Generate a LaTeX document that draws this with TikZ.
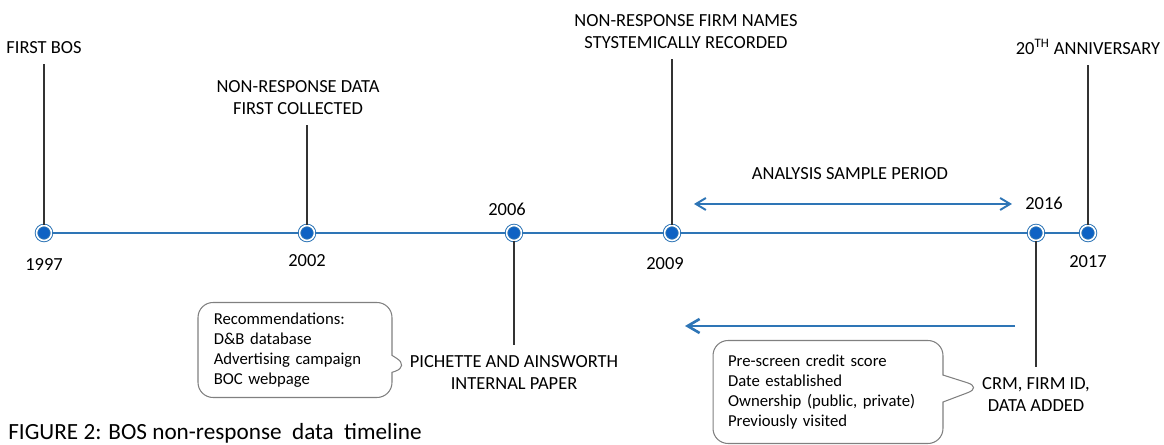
\documentclass[tikz,border=0pt]{standalone}
\usepackage{fontspec}
\setmainfont{Carlito}
\usepackage{xcolor}
\usepackage{tikz}
\usetikzlibrary{positioning}
\usetikzlibrary{arrows.meta}
\usetikzlibrary{shapes.callouts}
\definecolor{lineblue}{RGB}{46,117,182}
\definecolor{dotblue}{RGB}{14,98,196}
\tikzstyle{dot}=[circle, draw=lineblue, fill=dotblue, line width=0.55pt, double=white, double distance=0.9pt, minimum size=0.3cm, inner sep=0cm]
\tikzstyle{year}=[inner sep=0cm, text depth=0ex]
\tikzstyle{tag}=[align=center, inner xsep=0cm, inner ysep=0.2cm, text depth=0ex]
\tikzstyle{stem}=[draw=black!80, line width=0.9pt]
\tikzstyle{tline}=[draw=lineblue, line width=1.7pt]
\tikzstyle{note}=[rectangle callout, draw=black!50, line width=0.6pt, rounded corners=3mm, align=left, font=\fontsize{9.5}{11.4}\selectfont, inner xsep=0.3cm]

\begin{document}
\begin{tikzpicture}[x=0.02cm, y=-0.02cm, font=\fontsize{10.5}{12.6}\selectfont]
\useasboundingbox (0,0) rectangle (1164,445);

% timeline dots
\node (d97) [dot] at (44,233) {};
\node (d02) [dot] at (307,233) {};
\node (d06) [dot] at (514,233) {};
\node (d09) [dot] at (672,233) {};
\node (d16) [dot] at (1036,233) {};
\node (d17) [dot] at (1088,233) {};

\draw [tline] (d97) -- (d02) -- (d06) -- (d09) -- (d16) -- (d17);

% years
\node (y97) [year, below=0.34cm of d97] {1997};
\node (y02) [year, below=0.26cm of d02] {2002};
\node (y06) [year, above=0.18cm of d06, xshift=-0.14cm] {2006};
\node (y09) [year, below=0.32cm of d09, xshift=-0.14cm] {2009};
\node (y16) [year, above=0.3cm of d16, xshift=0.16cm] {2016};
\node (y17) [year, below=0.28cm of d17] {2017};

% events
\node (first) [tag, above=3.22cm of d97] {FIRST BOS};
\node (collect) [tag, above=2.0cm of d02, xshift=-0.18cm] {NON-RESPONSE DATA\\FIRST COLLECTED};
\node (names) [tag, above=3.32cm of d09, xshift=0.28cm] {NON-RESPONSE FIRM NAMES\\STYSTEMICALLY RECORDED};
\node (anniv) [tag, above=3.2cm of d17] {20\textsuperscript{TH} ANNIVERSARY};
\node (paper) [tag, below=2.08cm of d06] {PICHETTE AND AINSWORTH\\INTERNAL PAPER};
\node (crm) [tag, below=2.52cm of d16] {CRM, FIRM ID,\\DATA ADDED};

\draw [stem] (d97) -- (d97 |- first.south);
\draw [stem] (d02) -- (d02 |- collect.south);
\draw [stem] (d09) -- (d09 |- names.south);
\draw [stem] (d17) -- (d17 |- anniv.south);
\draw [stem] (d06) -- (d06 |- paper.north);
\draw [stem] (d16) -- (d16 |- crm.north);

% sample period
\coordinate (pa) at (694,204);
\coordinate (pb) at (1012,204);
\node (period) [year] at (850,174) {ANALYSIS SAMPLE PERIOD};
\draw [lineblue, line width=1.1pt, {Straight Barb[length=2mm, width=2.4mm]}-{Straight Barb[length=2mm, width=2.4mm]}] (pa) -- (pb);

\coordinate (ba) at (1015,326);
\coordinate (bb) at (685,326);
\draw [lineblue, line width=1.5pt, -{Straight Barb[length=2.4mm, width=2.8mm]}] (ba) -- (bb);

% callouts
\node (recs) [note, minimum width=3.88cm, minimum height=1.9cm, text width=3.25cm,
  callout pointer width=0.34cm, callout absolute pointer={([yshift=0.12cm]paper.west)}] at (295,350)
  {Recommendations:\\D\&B database\\Advertising campaign\\BOC webpage};
\node (fields) [note, minimum width=4.6cm, minimum height=2.06cm, text width=4cm,
  callout pointer width=0.54cm, callout absolute pointer={([yshift=0.14cm]crm.west)}] at (828,392)
  {Pre-screen credit score\\Date established\\Ownership (public, private)\\Previously visited};

\node (caption) [year, anchor=west, font=\fontsize{13.2}{15.5}\selectfont] at (8,431) {FIGURE 2: BOS non-response\ \ data\ \ timeline};
\end{tikzpicture}
\end{document}
